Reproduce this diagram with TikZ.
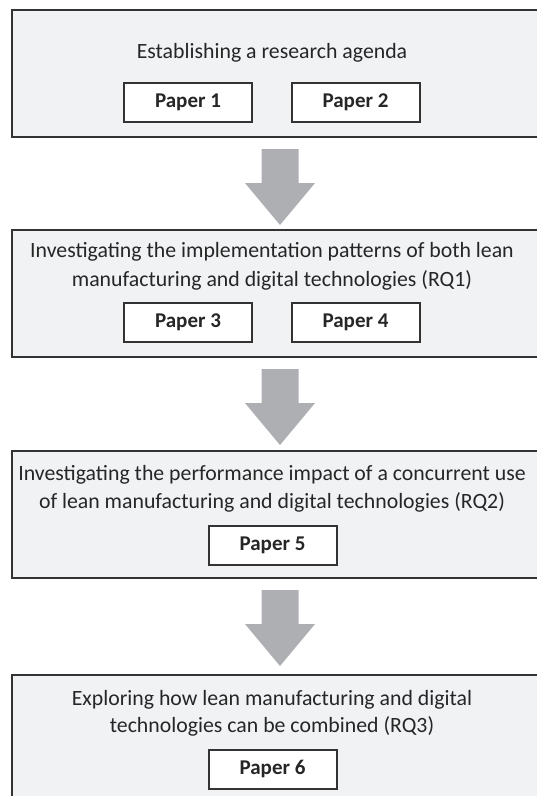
\documentclass[tikz,border=0pt]{standalone}
\usepackage{fontspec}
\setmainfont{Carlito}
\begin{document}
\begin{tikzpicture}[x=1pt,y=-1pt,
  stagebox/.style={draw=boxline, line width=2pt, fill=stagefill, anchor=north west,
    inner sep=0pt, outer sep=0pt},
  stagetext/.style={align=center, text=ink, inner sep=0pt,
    font=\fontsize{21.8}{29}\selectfont},
  paperbox/.style={draw=boxline, line width=2pt, fill=white, text=ink,
    minimum width=128pt, minimum height=39pt, inner sep=0pt,
    font=\fontsize{21}{25}\selectfont\bfseries},
  flow/.style={fill=arrowgray, draw=none}]
\definecolor{stagefill}{HTML}{F1F2F4}
\definecolor{boxline}{HTML}{333333}
\definecolor{arrowgray}{HTML}{AEAFB3}
\definecolor{ink}{HTML}{262626}
\useasboundingbox (0,0) rectangle (537,796);
\clip (0,0) rectangle (537,796);

% stage boxes (they run past the right and bottom edges)
\node[stagebox, minimum width=540pt, minimum height=127pt] (s1) at (12,10) {};
\node[stagebox, minimum width=540pt, minimum height=127pt] (s2) at (12,230) {};
\node[stagebox, minimum width=540pt, minimum height=127pt] (s3) at (12,451) {};
\node[stagebox, minimum width=540pt, minimum height=140pt] (s4) at (12,675) {};

% stage titles
\node[stagetext] (t1) at (272,53) {Establishing a research agenda};
\node[stagetext] (t2) at (272,266.5) {Investigating the implementation patterns of both lean\\manufacturing and digital technologies (RQ1)};
\node[stagetext, font=\fontsize{21.8}{28}\selectfont] (t3) at (272,488.5) {Investigating the performance impact of a concurrent use\\of lean manufacturing and digital technologies (RQ2)};
\node[stagetext, font=\fontsize{21.8}{27}\selectfont] (t4) at (272,713) {Exploring how lean manufacturing and digital\\technologies can be combined (RQ3)};

% papers
\node[paperbox] (p1) at (188,102.5) {Paper 1};
\node[paperbox] (p2) at (355.5,102.5) {Paper 2};
\node[paperbox] (p3) at (188,322.5) {Paper 3};
\node[paperbox] (p4) at (355.5,322.5) {Paper 4};
\node[paperbox] (p5) at (272.5,545) {Paper 5};
\node[paperbox] (p6) at (272.5,769) {Paper 6};

% block arrows between the stages
\coordinate (a1) at (280,149);
\coordinate (a2) at (280,369);
\coordinate (a3) at (280,590);
\foreach \a in {a1,a2,a3}
  \fill[flow] (\a) ++(-18.5,0) -- ++(37,0) -- ++(0,34) -- ++(16.5,0)
    -- ++(-35,42) -- ++(-35,-42) -- ++(16.5,0) -- cycle;
\end{tikzpicture}
\end{document}
